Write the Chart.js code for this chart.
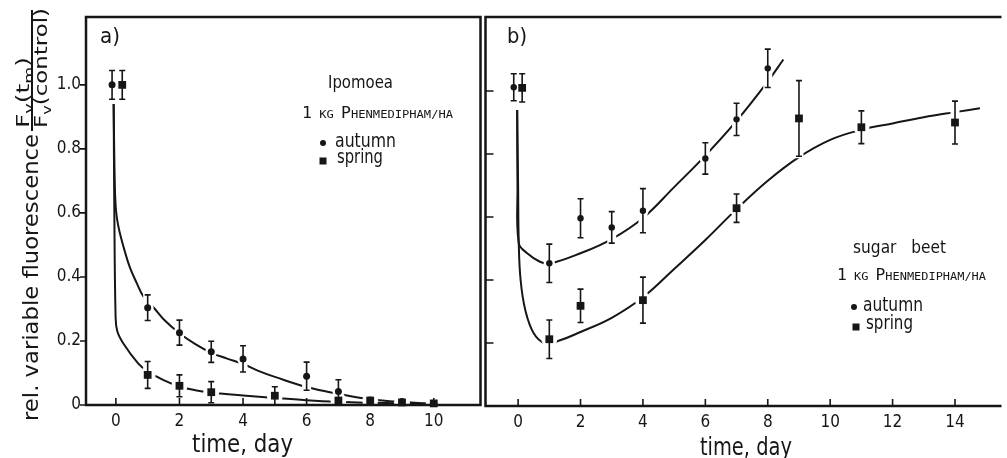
<!DOCTYPE html>
<html>
<head>
<meta charset="utf-8">
<script src="https://cdn.jsdelivr.net/npm/chart.js@4.4.1/dist/chart.umd.min.js"></script>
<style>
  html, body { margin: 0; padding: 0; background: #fff; }
  #wrap { position: relative; width: 1007px; height: 458px; overflow: hidden; background: #fff; }
  #chartA { position: absolute; left: 0; top: 0; width: 486px; height: 458px; }
  #chartB { position: absolute; left: 480px; top: 0; width: 527px; height: 458px; }
</style>
</head>
<body>
<div id="wrap">
  <canvas id="chartA" width="486" height="458"></canvas>
  <canvas id="chartB" width="527" height="458"></canvas>
</div>
<script>
// axes
const yTickValues = [0, 0.2, 0.4, 0.6, 0.8, 1.0];
const xTicksA = [0, 2, 4, 6, 8, 10];
const xTicksB = [0, 2, 4, 6, 8, 10, 12, 14];

// a) Ipomoea - measured points (value, +/- error)
const daysAutumnA = [-0.12, 1, 2, 3, 4, 6, 7, 8, 9, 10];
const autumnA     = [1.0, 0.304, 0.226, 0.166, 0.144, 0.09, 0.042, 0.016, 0.011, 0.005];
const autumnAErr  = [0.045, 0.04, 0.039, 0.033, 0.041, 0.044, 0.037, 0, 0, 0];
const daysSpringA = [0.2, 1, 2, 3, 5, 7, 8, 9, 10];
const springA     = [1.0, 0.094, 0.06, 0.04, 0.029, 0.014, 0.014, 0.008, 0.005];
const springAErr  = [0.045, 0.042, 0.034, 0.033, 0.028, 0, 0, 0, 0];

// a) fitted curves
const fitDaysAutumnA = [-0.07, -0.05, -0.02, 0.03, 0.125, 0.28, 0.44, 0.66, 0.86, 1.2, 1.5, 2, 2.5, 3, 3.5, 4, 4.5, 5, 6, 7, 8, 9, 10];
const fitAutumnA     = [0.94, 0.78, 0.645, 0.585, 0.537, 0.48, 0.43, 0.38, 0.34, 0.303, 0.268, 0.224, 0.19, 0.163, 0.145, 0.128, 0.106, 0.088, 0.056, 0.035, 0.018, 0.009, 0.004];
const fitDaysSpringA = [-0.07, -0.05, -0.01, 0.04, 0.23, 0.7, 1, 1.5, 2, 2.5, 3, 4, 5, 6, 7, 8, 9, 10];
const fitSpringA     = [0.94, 0.62, 0.28, 0.232, 0.193, 0.13, 0.105, 0.078, 0.058, 0.046, 0.038, 0.03, 0.022, 0.015, 0.01, 0.007, 0.005, 0.003];

// b) sugar beet - measured points
const daysAutumnB = [-0.14, 1, 2, 3, 4, 6, 7, 8];
const autumnB     = [1.012, 0.453, 0.596, 0.567, 0.62, 0.786, 0.91, 1.072];
const autumnBErr  = [0.043, 0.061, 0.062, 0.05, 0.07, 0.05, 0.051, 0.061];
const daysSpringB = [0.13, 1, 2, 4, 7, 9, 11, 14];
const springB     = [1.01, 0.212, 0.318, 0.336, 0.628, 0.913, 0.885, 0.90];
const springBErr  = [0.045, 0.061, 0.053, 0.073, 0.045, 0.12, 0.052, 0.068];

// b) fitted curves
const fitDaysAutumnB = [-0.03, -0.02, 0.02, 0.28, 0.7, 1, 2, 3, 4, 5, 6, 7, 8, 8.5];
const fitAutumnB     = [0.94, 0.7, 0.517, 0.486, 0.458, 0.452, 0.485, 0.53, 0.597, 0.695, 0.795, 0.905, 1.03, 1.10];
const fitDaysSpringB = [-0.03, 0.0, 0.02, 0.08, 0.23, 0.5, 0.85, 1.3, 2, 3, 4, 5, 6, 7, 8, 9, 10, 11, 12, 13, 14, 14.8];
const fitSpringB     = [0.94, 0.7, 0.52, 0.40, 0.305, 0.231, 0.2, 0.207, 0.235, 0.28, 0.345, 0.435, 0.527, 0.625, 0.715, 0.79, 0.845, 0.877, 0.897, 0.917, 0.933, 0.945];

const ink = '#161616';
const tickFont = "'Liberation Sans Narrow', 'DejaVu Sans Condensed', 'Liberation Sans', sans-serif";
const textFont = "'DejaVu Sans', sans-serif";
const monoFont = "'DejaVu Sans Mono', monospace";

function pts(xs, ys) {
    return xs.map((x, i) => ({ x: x, y: ys[i] }));
}

function curve(xs, ys) {
    return {
        data: pts(xs, ys), showLine: true, pointRadius: 0, borderColor: ink,
        borderWidth: 2, tension: 0.4, order: 3
    };
}

function markers(xs, ys, errs, style, r, first) {
    return {
        data: pts(xs, ys), showLine: false, pointStyle: style, pointRadius: r,
        backgroundColor: ink, borderWidth: 0, errors: errs, first: first, order: first ? 2 : 1, clip: false
    };
}

// text squeezed/stretched to a given width
function fitText(ctx, text, x, y, width, font) {
    ctx.save();
    ctx.font = font;
    const s = width / ctx.measureText(text).width;
    ctx.translate(x, y);
    ctx.scale(s, 1);
    ctx.textAlign = 'left';
    ctx.textBaseline = 'alphabetic';
    ctx.fillStyle = ink;
    ctx.fillText(text, 0, 0);
    ctx.restore();
}

// text made of pieces of different size (sub scripts, small caps)
function richText(ctx, parts, x, y, width, rotate) {
    ctx.save();
    ctx.translate(x, y);
    if (rotate) ctx.rotate(-Math.PI / 2);
    let total = 0;
    parts.forEach(p => { ctx.font = p[1]; total += ctx.measureText(p[0]).width; });
    ctx.scale(width / total, 1);
    ctx.fillStyle = ink;
    ctx.textBaseline = 'alphabetic';
    let cx = 0;
    parts.forEach(p => {
        ctx.font = p[1];
        ctx.fillText(p[0], cx, p[2] || 0);
        cx += ctx.measureText(p[0]).width;
    });
    ctx.restore();
}

function smallCaps(size) {
    return [['1', size + 'px ' + monoFont], [' KG ', (size - 4) + 'px ' + monoFont],
            ['P', size + 'px ' + monoFont], ['HENMEDIPHAM/HA', (size - 4) + 'px ' + monoFont]];
}

function legendKeys(ctx, dx, dot, sq) {
    ctx.save();
    ctx.fillStyle = ink;
    ctx.beginPath();
    ctx.arc(dot[0] - dx, dot[1], 3, 0, Math.PI * 2);
    ctx.fill();
    ctx.fillRect(sq[0] - dx - 3.5, sq[1] - 3.5, 7, 7);
    ctx.restore();
}

// error bars, with a white halo that breaks the curves where they cross
const errorBars = {
    id: 'errorBars',
    beforeDatasetDraw(chart, args) {
        const ds0 = chart.data.datasets[args.index];
        if (!ds0.first) return;
        const ctx = chart.ctx, y = chart.scales.y;
        const sets = chart.data.datasets.map((ds, i) => [ds, chart.getDatasetMeta(i)]).filter(d => d[0].errors);
        ctx.save();
        sets.forEach(([ds, meta]) => {
            meta.data.forEach((pt, i) => {
                const v = ds.data[i].y, e = ds.errors[i];
                const top = y.getPixelForValue(v + e), bot = y.getPixelForValue(v - e);
                ctx.strokeStyle = '#fff';
                ctx.lineWidth = 9;
                ctx.beginPath();
                ctx.moveTo(pt.x, top - 2);
                ctx.lineTo(pt.x, bot + 2);
                ctx.stroke();
                ctx.fillStyle = '#fff';
                ctx.beginPath();
                ctx.arc(pt.x, pt.y, pt.options.radius + 2.5, 0, Math.PI * 2);
                ctx.fill();
            });
        });
        ctx.strokeStyle = ink;
        ctx.lineWidth = 1.6;
        sets.forEach(([ds, meta]) => {
            meta.data.forEach((pt, i) => {
                const v = ds.data[i].y, e = ds.errors[i];
                if (!e) return;
                const top = y.getPixelForValue(v + e), bot = y.getPixelForValue(v - e);
                ctx.beginPath();
                ctx.moveTo(pt.x, top); ctx.lineTo(pt.x, bot);
                ctx.moveTo(pt.x - 3, top); ctx.lineTo(pt.x + 3, top);
                ctx.moveTo(pt.x - 3, bot); ctx.lineTo(pt.x + 3, bot);
                ctx.stroke();
            });
        });
        ctx.restore();
    }
};

// frame and inward ticks
const frame = {
    id: 'frame',
    afterDraw(chart, args, opts) {
        const { ctx, chartArea: a, scales: { x, y } } = chart;
        ctx.save();
        ctx.strokeStyle = ink;
        ctx.lineWidth = 2.5;
        ctx.beginPath();
        if (opts.right) {
            ctx.rect(a.left, a.top, a.right - a.left, a.bottom - a.top);
        } else {
            ctx.moveTo(a.right, a.top); ctx.lineTo(a.left, a.top);
            ctx.lineTo(a.left, a.bottom); ctx.lineTo(a.right, a.bottom);
        }
        ctx.stroke();
        ctx.lineWidth = 1.6;
        ctx.beginPath();
        x.ticks.forEach(t => {
            const px = x.getPixelForValue(t.value);
            ctx.moveTo(px, a.bottom); ctx.lineTo(px, a.bottom - 7);
        });
        y.ticks.forEach(t => {
            const py = y.getPixelForValue(t.value);
            ctx.moveTo(a.left, py); ctx.lineTo(a.left + opts.yTick, py);
        });
        ctx.stroke();
        ctx.restore();
        if (opts.notes) opts.notes(ctx, chart);
    }
};

function notesA(ctx, chart) {
    const x = chart.scales.x;
    fitText(ctx, 'a)', 100, 43, 20, '22px ' + textFont);
    fitText(ctx, 'Ipomoea', 328, 88, 65, '18px ' + textFont);
    richText(ctx, smallCaps(15), 302, 118, 151, false);
    legendKeys(ctx, 0, [323, 143], [323, 161]);
    fitText(ctx, 'autumn', 335, 147, 61, '19px ' + textFont);
    fitText(ctx, 'spring', 337, 163, 46, '19px ' + textFont);
    fitText(ctx, 'time, day', x.getPixelForValue(4) - 51, 452, 101, '24px ' + textFont);

    // y axis title with the fraction
    richText(ctx, [['rel. variable fluorescence', '21px ' + textFont]], 38, 421, 287, true);
    richText(ctx, [['F', '17px ' + textFont], ['v', '12px ' + textFont, 4], ['(t', '17px ' + textFont],
                   ['m', '12px ' + textFont, 4], [')', '17px ' + textFont]], 29, 128, 71, true);
    richText(ctx, [['F', '17px ' + textFont], ['v', '12px ' + textFont, 4], ['(control)', '17px ' + textFont]],
             47, 128, 120, true);
    ctx.save();
    ctx.strokeStyle = ink;
    ctx.lineWidth = 2;
    ctx.beginPath();
    ctx.moveTo(32, 10); ctx.lineTo(32, 131);
    ctx.stroke();
    ctx.restore();
}

function notesB(ctx, chart) {
    const x = chart.scales.x, dx = 480;
    fitText(ctx, 'b)', 507 - dx, 43, 20, '22px ' + textFont);
    fitText(ctx, 'sugar   beet', 853 - dx, 253, 93, '18px ' + textFont);
    richText(ctx, smallCaps(15), 837 - dx, 280, 149, false);
    legendKeys(ctx, dx, [854, 307], [856, 327]);
    fitText(ctx, 'autumn', 863 - dx, 311, 60, '19px ' + textFont);
    fitText(ctx, 'spring', 866 - dx, 329, 47, '19px ' + textFont);
    fitText(ctx, 'time, day', x.getPixelForValue(7.3) - 46, 455, 92, '24px ' + textFont);
}

function makeChart(id, sets, xr, xTicks, yMax, opts) {
    new Chart(document.getElementById(id), {
        type: 'scatter',
        data: { datasets: sets },
        plugins: [errorBars, frame],
        options: {
            responsive: false,
            animation: false,
            layout: { padding: { top: 17, right: opts.padRight, left: 0, bottom: 0 } },
            plugins: {
                legend: { display: false },
                tooltip: { enabled: false },
                frame: opts.frame
            },
            scales: {
                x: {
                    type: 'linear', min: xr[0], max: xr[1],
                    grid: { display: false, drawTicks: false },
                    border: { display: false },
                    afterBuildTicks: s => { s.ticks = xTicks.map(v => ({ value: v })); },
                    afterFit: s => { s.height = opts.xHeight; },
                    ticks: { color: ink, padding: 6, font: { family: tickFont, size: 17 }, callback: v => String(v) }
                },
                y: {
                    type: 'linear', min: 0, max: yMax,
                    grid: { display: false, drawTicks: false },
                    border: { display: false },
                    afterBuildTicks: s => { s.ticks = yTickValues.map(v => ({ value: v })); },
                    afterFit: s => { s.width = opts.yWidth; },
                    ticks: {
                        display: opts.yLabels, color: ink, padding: 5, font: { family: tickFont, size: 17 },
                        callback: v => v === 0 ? '0' : v.toFixed(1)
                    }
                }
            }
        }
    });
}

makeChart('chartA', [
    curve(fitDaysAutumnA, fitAutumnA),
    curve(fitDaysSpringA, fitSpringA),
    markers(daysAutumnA, autumnA, autumnAErr, 'circle', 3.5, true),
    markers(daysSpringA, springA, springAErr, 'rect', 5.5, false)
], [-0.94, 11.47], xTicksA, 1.212, {
    padRight: 3, xHeight: 53, yWidth: 86, yLabels: true,
    frame: { right: true, yTick: -6, notes: notesA }
});

makeChart('chartB', [
    curve(fitDaysAutumnB, fitAutumnB),
    curve(fitDaysSpringB, fitSpringB),
    markers(daysAutumnB, autumnB, autumnBErr, 'circle', 3.2, true),
    markers(daysSpringB, springB, springBErr, 'rect', 5.5, false)
], [-1.045, 15.49], xTicksB, 1.235, {
    padRight: 2, xHeight: 52, yWidth: 3, yLabels: false,
    frame: { right: false, yTick: 8, notes: notesB }
});
</script>
</body>
</html>
